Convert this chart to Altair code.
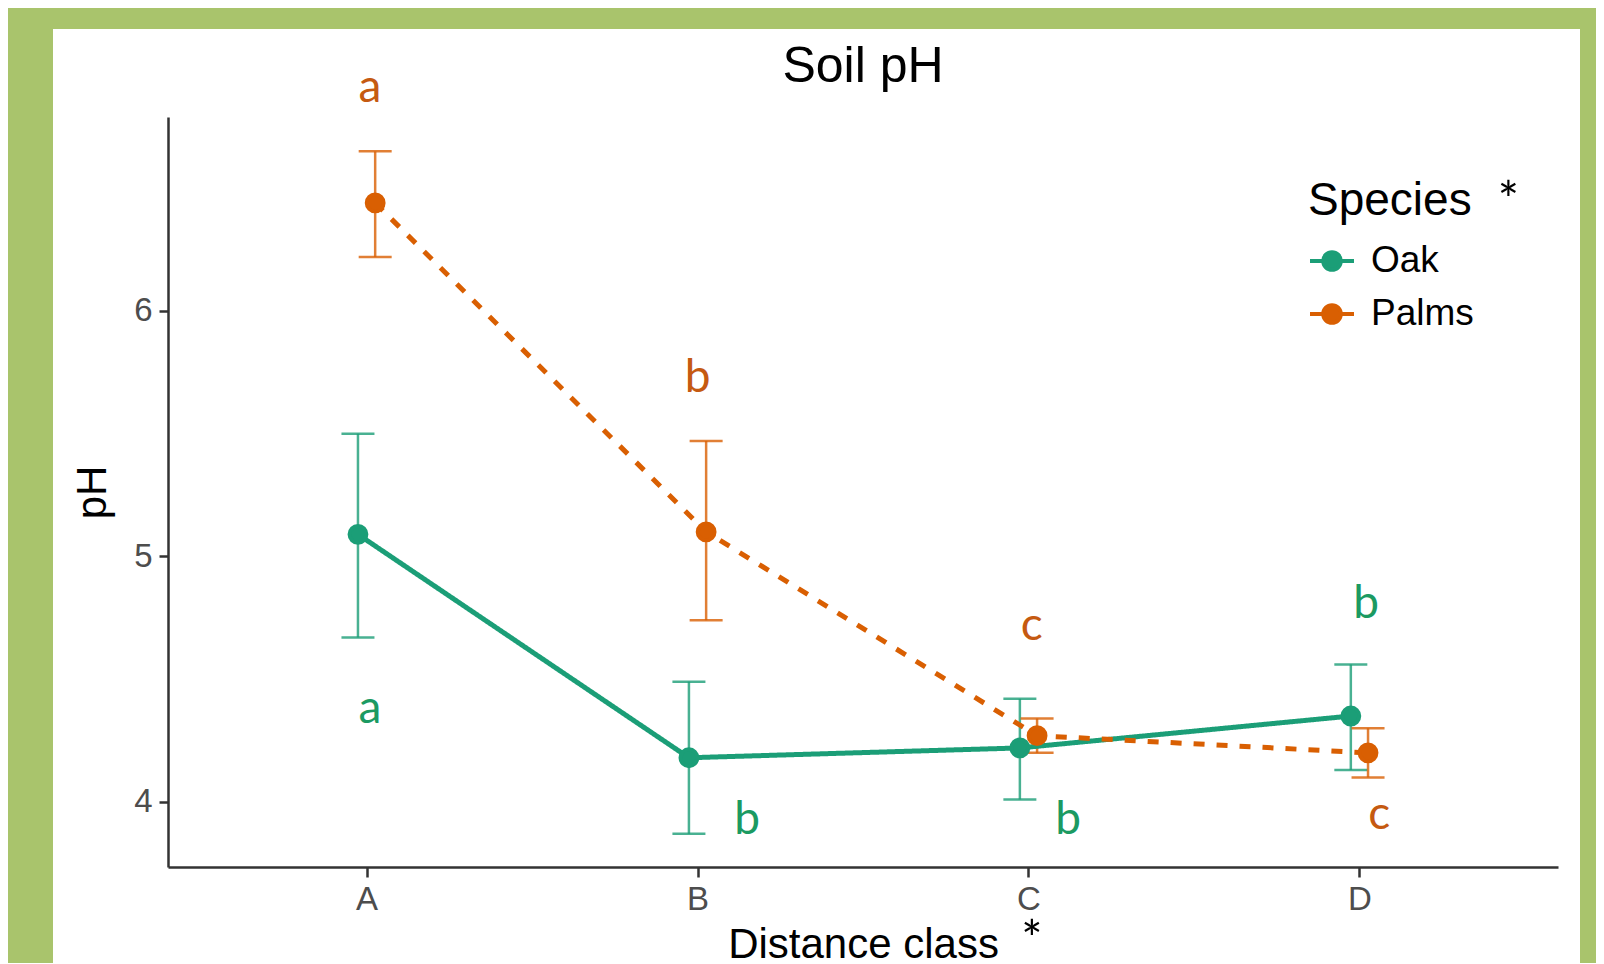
import altair as alt
import pandas as pd

# ---------------- data ----------------
categories = ["A", "B", "C", "D"]
species = ["Oak", "Palms"]
colors = ["#1b9e77", "#d95f02"]
letter_colors = ["#1b9a62", "#c55a11"]
dashes = [[1, 0], [11, 12]]

oak_mean = [5.09, 4.18, 4.22, 4.35]
oak_lower = [4.67, 3.87, 4.01, 4.13]
oak_upper = [5.50, 4.49, 4.42, 4.56]
palm_mean = [6.44, 5.10, 4.27, 4.20]
palm_lower = [6.22, 4.74, 4.20, 4.10]
palm_upper = [6.65, 5.47, 4.34, 4.30]

# significance letters (x in class index units, y in pH units, baseline)
oak_letters = ["a", "b", "b", "b"]
oak_letter_x = [0.01, 1.15, 2.12, 3.02]
oak_letter_y = [4.32, 3.87, 3.87, 4.75]
palm_letters = ["a", "b", "c", "c"]
palm_letter_x = [0.01, 1.0, 2.01, 3.06]
palm_letter_y = [6.85, 5.67, 4.66, 3.89]

star_text = ["*", "*"]
star_x = [3.45, 2.01]
star_y = [6.38, 3.37]

dodge = 0.026

rows = []
for sp, sign, m, lo, hi in [("Oak", -1, oak_mean, oak_lower, oak_upper),
                            ("Palms", 1, palm_mean, palm_lower, palm_upper)]:
    for i, c in enumerate(categories):
        rows.append({"species": sp, "cls": c, "pos": i + sign * dodge,
                     "ph": m[i], "lo": lo[i], "hi": hi[i]})
df = pd.DataFrame(rows)

oak_lab = pd.DataFrame({"pos": oak_letter_x, "ph": oak_letter_y, "txt": oak_letters})
palm_lab = pd.DataFrame({"pos": palm_letter_x, "ph": palm_letter_y, "txt": palm_letters})
star_df = pd.DataFrame({"pos": star_x, "ph": star_y, "txt": star_text})

# ---------------- scales / axes ----------------
FONT = "Liberation Sans"
x_scale = alt.Scale(domain=[-0.6, 3.6], nice=False, zero=False)
y_scale = alt.Scale(domain=[3.735, 6.79], nice=False, zero=False)
color_scale = alt.Scale(domain=species, range=colors)

x_axis = alt.Axis(values=[0, 1, 2, 3], labelExpr=f"{categories}[datum.value]",
                  title="Distance class", titleFontSize=42, titleFontWeight="normal",
                  titleColor="black", titleBaseline="alphabetic", titleY=90,
                  labelFontSize=33, labelColor="#4d4d4d", labelPadding=6,
                  tickSize=10, tickWidth=2.5, tickColor="#333333",
                  domainColor="#333333", domainWidth=2.5, grid=False, zindex=1)
y_axis = alt.Axis(values=[4, 5, 6], title="pH", titleFontSize=42, titleFontWeight="normal",
                  titleColor="black", titleAngle=270, titleBaseline="alphabetic",
                  titleAlign="center", titleX=-63, titleY=375,
                  labelFontSize=33, labelColor="#4d4d4d", labelPadding=7,
                  tickSize=9, tickWidth=2.5, tickColor="#333333",
                  domainColor="#333333", domainWidth=2.5, grid=False, zindex=1)


def X():
    return alt.X("pos:Q", scale=x_scale, axis=x_axis)


def Y(field="ph"):
    return alt.Y(f"{field}:Q", scale=y_scale, axis=y_axis)


sym_path = "M-1,0L1,0M-0.4,0A0.4,0.4,0,1,1,0.4,0A0.4,0.4,0,1,1,-0.4,0Z"
legend = alt.Legend(title="Species", orient="none", legendX=1140, legendY=62,
                    titleFontSize=46, titleFontWeight="normal", titleColor="black",
                    titlePadding=12, labelFontSize=37, labelColor="black",
                    labelOffset=15, symbolType=sym_path, symbolSize=1936,
                    symbolStrokeWidth=4, rowPadding=11, padding=0, zindex=2)

# ---------------- layers ----------------
panel = alt.Chart(pd.DataFrame({"d": [0]})).mark_rect(color="white").encode(
    x=alt.value(-115), x2=alt.value(1412), y=alt.value(-88), y2=alt.value(900))

base = alt.Chart(df)

layers = [panel]
for sp, col, dash in zip(species, colors, dashes):
    sub = base.transform_filter(alt.datum.species == sp)
    layers.append(sub.mark_rule(strokeWidth=2.5, opacity=0.8).encode(
        x=X(), y=Y("lo"), y2="hi:Q", color=alt.value(col)))
    layers.append(sub.transform_fold(["lo", "hi"], as_=["end", "ph"]).mark_tick(
        orient="horizontal", size=33, thickness=2.5, opacity=0.8).encode(
        x=X(), y=Y(), color=alt.value(col)))
for sp, col, dash in zip(species, colors, dashes):
    sub = base.transform_filter(alt.datum.species == sp)
    layers.append(sub.mark_line(strokeWidth=5).encode(
        x=X(), y=Y(), color=alt.value(col), strokeDash=alt.value(dash)))

points = base.mark_point(filled=True, size=283, opacity=1, strokeWidth=4).encode(
    x=X(), y=Y(),
    color=alt.Color("species:N", scale=color_scale, legend=legend),
    stroke=alt.Stroke("species:N", scale=color_scale, legend=legend))
layers.append(points)

layers.append(alt.Chart(oak_lab).mark_text(font="Lato", fontSize=46, align="center",
                                           baseline="alphabetic", color=letter_colors[0]).encode(
    x=X(), y=Y(), text="txt:N"))
layers.append(alt.Chart(palm_lab).mark_text(font="Lato", fontSize=46, align="center",
                                            baseline="alphabetic", color=letter_colors[1]).encode(
    x=X(), y=Y(), text="txt:N"))
layers.append(alt.Chart(star_df).mark_text(font="Lato", fontSize=50, align="center",
                                           baseline="alphabetic", color="black").encode(
    x=X(), y=Y(), text="txt:N"))

chart = alt.layer(*layers).properties(
    width=1390, height=750,
    padding={"left": 160, "top": 109, "right": 38, "bottom": 96},
    autosize=alt.AutoSizeParams(type="none"),
    background="#a9c46c",
    title=alt.Title("Soil pH", fontSize=50, font=FONT, fontWeight="normal", color="black",
                    anchor="middle", frame="group", baseline="alphabetic", offset=-103,
                    zindex=2),
).configure_view(stroke="transparent").configure_axis(
    labelFont=FONT, titleFont=FONT).configure_legend(labelFont=FONT, titleFont=FONT)

chart.save("out.html", embed_options={"renderer": "svg", "actions": False})
